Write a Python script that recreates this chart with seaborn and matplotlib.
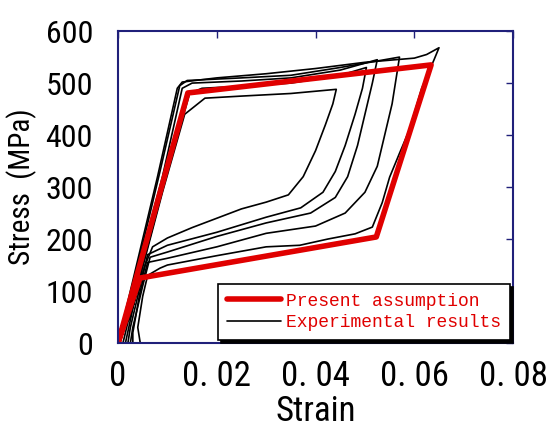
import numpy as np
import pandas as pd
import matplotlib
matplotlib.use("Agg")
import matplotlib.pyplot as plt
import seaborn as sns

# Present assumption (model loop)
model_strain = [0.0, 0.01414, 0.0634, 0.0523, 0.00444, 0.0]
model_stress = [0, 481, 535, 204, 125, 0]

# Experimental loops
loop1_strain = [0.0015, 0.004, 0.009, 0.0135, 0.0176, 0.025, 0.035, 0.0442,
                0.0435, 0.042, 0.040, 0.0375, 0.0345, 0.030, 0.025, 0.020, 0.015, 0.010, 0.007, 0.0055, 0.004, 0.002, 0.001]
loop1_stress = [0, 110, 290, 440, 471, 475, 480, 488,
                460, 420, 370, 320, 285, 271, 258, 240, 222, 202, 185, 150, 100, 40, 0]

loop2_strain = [0.0, 0.005, 0.010, 0.0145, 0.017, 0.025, 0.035, 0.045, 0.0503,
                0.0495, 0.048, 0.046, 0.044, 0.0415, 0.037, 0.030, 0.020, 0.010, 0.006, 0.0045, 0.0025, 0.002]
loop2_stress = [0, 150, 330, 480, 490, 494, 500, 515, 530,
                490, 440, 380, 330, 290, 260, 242, 213, 188, 170, 110, 30, 0]

loop3_strain = [0.0, 0.004, 0.009, 0.013, 0.015, 0.025, 0.035, 0.045, 0.0525,
                0.0515, 0.050, 0.0485, 0.0465, 0.044, 0.039, 0.030, 0.020, 0.010, 0.0065, 0.005, 0.003, 0.0025]
loop3_stress = [0, 140, 320, 490, 500, 504, 510, 525, 545,
                500, 440, 380, 320, 280, 250, 231, 205, 175, 165, 110, 30, 0]

loop4_strain = [0.0, 0.004, 0.0085, 0.0125, 0.014, 0.025, 0.035, 0.045, 0.057,
                0.0565, 0.0555, 0.054, 0.0525, 0.050, 0.046, 0.040, 0.030, 0.020, 0.010, 0.006, 0.0045, 0.003, 0.003]
loop4_stress = [0, 150, 330, 495, 505, 510, 515, 530, 550,
                520, 460, 400, 340, 290, 250, 225, 211, 185, 163, 155, 100, 20, 0]

loop5_strain = [0.0, 0.0035, 0.008, 0.012, 0.013, 0.020, 0.030, 0.040, 0.050, 0.060, 0.0625, 0.065,
                0.064, 0.0615, 0.059, 0.057, 0.055, 0.0535, 0.0515, 0.048, 0.0425, 0.0368, 0.030, 0.020,
                0.010, 0.0085, 0.006, 0.005, 0.004, 0.0045]
loop5_stress = [0, 140, 320, 490, 502, 510, 518, 528, 540, 548, 555, 568,
                545, 490, 410, 365, 319, 270, 223, 210, 200, 188, 185, 168,
                150, 144, 130, 90, 30, 0]

loops = [(loop1_strain, loop1_stress), (loop2_strain, loop2_stress),
         (loop3_strain, loop3_stress), (loop4_strain, loop4_stress),
         (loop5_strain, loop5_stress)]

sns.set_style("white")
plt.rcParams['font.family'] = ['Roboto Condensed', 'Roboto', 'DejaVu Sans']
plt.rcParams['text.color'] = 'black'
plt.rcParams['axes.labelcolor'] = 'black'
plt.rcParams['xtick.labelcolor'] = 'black'
plt.rcParams['ytick.labelcolor'] = 'black'

navy = '#20207a'
fig = plt.figure(figsize=(5.58, 4.32), dpi=100)
ax = fig.add_axes([0.2115, 0.206, 0.708, 0.722])

for i, (s, t) in enumerate(loops):
    sns.lineplot(x=s, y=t, sort=False, estimator=None, color='black', lw=1.2,
                 ax=ax, label='Experimental results' if i == 0 else None)

sns.lineplot(x=model_strain, y=model_stress, sort=False, estimator=None,
             color='#e00000', lw=4.0, ax=ax, label='Present assumption')

ax.set_xlim(0, 0.08)
ax.set_ylim(0, 600)
ax.set_xticks([0, 0.02, 0.04, 0.06, 0.08])
ax.set_xticklabels(['0', '0. 02', '0. 04', '0. 06', '0. 08'])
ax.set_xticks([0.01], minor=True)
ax.set_yticks(range(0, 601, 100))

for sp in ax.spines.values():
    sp.set_color(navy)
    sp.set_linewidth(1.5)

ax.tick_params(axis='both', which='both', direction='in', length=5, width=1,
               color=navy, top=True, right=True)
ax.tick_params(axis='x', which='minor', top=False)
ax.tick_params(axis='x', labelsize=25, pad=12)
ax.tick_params(axis='y', labelsize=23, pad=18)

ax.set_xlabel('Strain', fontsize=25, labelpad=2)
ax.set_ylabel('Stress  (MPa)', fontsize=21, labelpad=6)

handles, labels = ax.get_legend_handles_labels()
order = [labels.index('Present assumption'), labels.index('Experimental results')]
leg = ax.legend([handles[k] for k in order], [labels[k] for k in order],
                loc='lower right', bbox_to_anchor=(1.0, 0.0), borderaxespad=0.15,
                frameon=True, fancybox=False, shadow={'color': 'black', 'alpha': 1},
                prop={'family': ['Liberation Mono', 'DejaVu Sans Mono'], 'size': 13},
                handlelength=3.0, handletextpad=0.3, labelspacing=0.25,
                borderpad=0.5, labelcolor='#e00000')
leg.get_frame().set_edgecolor('black')
leg.get_frame().set_linewidth(1.2)
leg.get_frame().set_alpha(1)

fig.savefig('out.png', dpi=100)
